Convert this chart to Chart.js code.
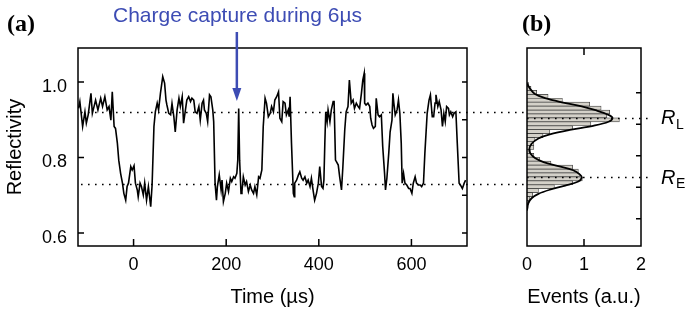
<!DOCTYPE html>
<html>
<head>
<meta charset="utf-8">
<title>Reflectivity trace and histogram</title>
<script src="https://cdn.jsdelivr.net/npm/chart.js@4.4.1/dist/chart.umd.min.js"></script>
<style>
  html, body { margin: 0; padding: 0; background: #fff; }
  #wrap { position: relative; width: 686px; height: 313px; overflow: hidden; }
  #wrap canvas { position: absolute; left: 0; top: 0; }
</style>
</head>
<body>
<div id="wrap">
  <canvas id="traceChart" width="686" height="313"></canvas>
  <canvas id="histChart" width="686" height="313"></canvas>
</div>
<script>
// values
const timeUs = [
  -119, -116, -110, -105, -102, -98, -92, -89, -82, -77, -71, -67, -62, -57, -53, -49, -46, -42, -39, -35,
  -32, -28, -24, -21, -17, -14, -11, -6, -3, 1, 4, 8, 10, 14, 17, 21, 24, 28, 32, 37,
  40, 44, 47, 51, 54, 58, 63, 67, 70, 72, 76, 80, 83, 87, 90, 94, 98, 101, 105, 108,
  112, 115, 119, 123, 126, 130, 133, 137, 141, 144, 148, 151, 153, 157, 160, 164, 167, 171, 173, 176,
  179, 181, 185, 189, 191, 194, 198, 201, 205, 209, 212, 216, 219, 223, 225, 227, 229, 232, 234, 237,
  241, 244, 248, 252, 255, 259, 262, 266, 270, 273, 277, 280, 284, 287, 291, 295, 298, 302, 305, 309,
  313, 316, 320, 323, 327, 330, 334, 336, 338, 341, 345, 347, 348, 352, 356, 359, 363, 366, 370, 374,
  377, 381, 384, 388, 391, 395, 399, 402, 406, 409, 411, 413, 415, 418, 420, 424, 427, 431, 433, 436,
  438, 442, 445, 449, 452, 456, 459, 463, 466, 470, 474, 477, 481, 485, 488, 492, 495, 498, 499, 502,
  506, 510, 512, 515, 518, 522, 524, 528, 531, 535, 538, 542, 544, 547, 551, 554, 558, 560, 562, 565,
  569, 572, 575, 578, 580, 583, 586, 590, 594, 597, 601, 604, 608, 611, 615, 619, 622, 626, 629, 634,
  638, 641, 645, 648, 651, 653, 657, 660, 664, 667, 670, 673, 676, 680, 682, 685, 689, 692, 696, 699,
  703, 706, 710, 714, 717
];
const reflectivity = [
  0.930, 0.948, 0.882, 0.921, 0.891, 0.913, 0.970, 0.917, 0.952, 0.926, 0.957, 0.935, 0.961, 0.926, 0.935, 0.899, 0.974, 0.882, 0.877, 0.838,
  0.793, 0.758, 0.732, 0.705, 0.687, 0.723, 0.732, 0.776, 0.767, 0.778, 0.732, 0.714, 0.696, 0.732, 0.723, 0.701, 0.732, 0.687, 0.723, 0.670,
  0.727, 0.882, 0.921, 0.944, 0.926, 0.970, 1.014, 0.997, 0.952, 0.939, 0.917, 0.913, 0.943, 0.908, 0.868, 0.926, 0.957, 0.935, 0.961, 0.891,
  0.926, 0.952, 0.961, 0.948, 0.957, 0.952, 0.921, 0.917, 0.935, 0.899, 0.944, 0.952, 0.926, 0.917, 0.895, 0.966, 0.961, 0.926, 0.895, 0.732,
  0.687, 0.723, 0.754, 0.714, 0.740, 0.683, 0.705, 0.732, 0.710, 0.745, 0.736, 0.749, 0.745, 0.758, 0.793, 0.930, 0.793, 0.705, 0.710, 0.749,
  0.727, 0.736, 0.710, 0.727, 0.714, 0.705, 0.723, 0.701, 0.749, 0.745, 0.767, 0.882, 0.957, 0.944, 0.908, 0.917, 0.935, 0.921, 0.952, 0.961,
  0.974, 0.904, 0.895, 0.948, 0.944, 0.913, 0.926, 0.908, 0.961, 0.838, 0.705, 0.696, 0.732, 0.740, 0.754, 0.762, 0.745, 0.740, 0.749, 0.732,
  0.740, 0.723, 0.745, 0.710, 0.687, 0.705, 0.732, 0.776, 0.723, 0.718, 0.740, 0.838, 0.921, 0.895, 0.926, 0.895, 0.926, 0.948, 0.948, 0.793,
  0.789, 0.780, 0.749, 0.714, 0.776, 0.873, 0.921, 0.935, 1.005, 0.944, 0.952, 0.930, 0.944, 0.935, 0.930, 0.970, 1.005, 1.023, 0.944, 0.939,
  0.944, 0.935, 0.904, 0.886, 0.877, 0.882, 0.957, 0.913, 0.908, 0.913, 0.829, 0.758, 0.714, 0.745, 0.811, 0.868, 0.899, 0.970, 0.944, 0.913,
  0.926, 0.952, 0.917, 0.838, 0.732, 0.758, 0.732, 0.727, 0.718, 0.718, 0.705, 0.732, 0.749, 0.732, 0.727, 0.727, 0.723, 0.732, 0.811, 0.917,
  0.952, 0.966, 0.908, 0.908, 0.944, 0.966, 0.935, 0.948, 0.926, 0.882, 0.917, 0.895, 0.935, 0.930, 0.913, 0.921, 0.908, 0.917, 0.921, 0.838,
  0.732, 0.727, 0.718, 0.732, 0.740
];

// histogram of reflectivity (bin centres and heights, a.u.)
const binCenters = [
  1.0265, 1.014, 1.0015, 0.989, 0.9765, 0.964, 0.9515, 0.939, 0.9265, 0.914, 0.9015, 0.889, 0.8765, 0.864, 0.8515, 0.839,
  0.8265, 0.814, 0.8015, 0.789, 0.7765, 0.764, 0.7515, 0.739, 0.7265, 0.714, 0.7015, 0.689, 0.6765, 0.664, 0.6515, 0.639
];
const binEvents = [
  0.03, 0.07, 0.17, 0.37, 0.62, 1.10, 1.30, 1.45, 1.40, 1.62, 1.12, 0.80, 0.40, 0.28, 0.14, 0.12,
  0.12, 0.06, 0.12, 0.22, 0.42, 0.80, 0.90, 0.92, 0.97, 0.80, 0.48, 0.20, 0.10, 0.05, 0.03, 0.02
];

// fitted double gaussian
const fitR = [
  1.030, 1.014, 0.996, 0.983, 0.970, 0.957, 0.944, 0.930, 0.920, 0.908, 0.895, 0.882, 0.868, 0.855, 0.838,
  0.820, 0.807, 0.793, 0.780, 0.767, 0.754, 0.740, 0.730, 0.718, 0.705, 0.692, 0.679, 0.665, 0.648, 0.626
];
const fitEvents = [
  0.00, 0.05, 0.14, 0.32, 0.61, 0.96, 1.22, 1.43, 1.50, 1.43, 1.16, 0.75, 0.40, 0.20, 0.08,
  0.04, 0.06, 0.14, 0.29, 0.55, 0.81, 0.93, 0.96, 0.90, 0.67, 0.40, 0.20, 0.08, 0.02, 0.00
];

const levelRL = 0.92;
const levelRE = 0.731;
const captureTime = 223;

const timeTicks = [0, 200, 400, 600];
const reflTicks = [0.6, 0.8, 1.0];
const reflMinorTicks = [0.6, 0.7, 0.8, 0.9, 1.0];
const eventTicks = [0, 1, 2];

const sans = "'Liberation Sans', Arial, Helvetica, sans-serif";
const serif = "'Liberation Serif', 'Times New Roman', serif";
const blue = '#3d4cb4';

Chart.defaults.font.family = sans;
Chart.defaults.color = '#000';

// box and inward tick marks
function drawFrame(chart, o) {
  const { ctx, chartArea: a, scales } = chart;
  ctx.save();
  ctx.strokeStyle = '#000';
  ctx.lineWidth = 1.5;
  ctx.strokeRect(a.left, a.top, a.right - a.left, a.bottom - a.top);
  ctx.beginPath();
  (o.left || []).forEach(v => {
    const py = scales.y.getPixelForValue(v);
    ctx.moveTo(a.left, py); ctx.lineTo(a.left + 6, py);
  });
  (o.right || []).forEach(v => {
    const py = scales.y.getPixelForValue(v);
    ctx.moveTo(a.right, py); ctx.lineTo(a.right - 5, py);
  });
  (o.bottom || []).forEach(v => {
    const px = scales.x.getPixelForValue(v);
    ctx.moveTo(px, a.bottom); ctx.lineTo(px, a.bottom - 7);
  });
  (o.top || []).forEach(v => {
    const px = scales.x.getPixelForValue(v);
    ctx.moveTo(px, a.top); ctx.lineTo(px, a.top + 7);
  });
  ctx.stroke();
  ctx.restore();
}

function drawLevels(chart, x1, x2) {
  const { ctx, scales } = chart;
  ctx.save();
  ctx.strokeStyle = '#000';
  ctx.lineWidth = 1.6;
  ctx.setLineDash([1.6, 5.4]);
  [levelRL, levelRE].forEach(v => {
    const py = Math.round(scales.y.getPixelForValue(v)) + 0.5;
    ctx.beginPath(); ctx.moveTo(x1, py); ctx.lineTo(x2, py); ctx.stroke();
  });
  ctx.restore();
}

const tracePlugin = {
  id: 'traceDecor',
  afterDatasetsDraw(chart) {
    const a = chart.chartArea;
    drawLevels(chart, a.left + 3, 527);
    drawFrame(chart, { left: reflTicks, right: reflMinorTicks, bottom: timeTicks });

    const ctx = chart.ctx;
    ctx.save();
    ctx.fillStyle = '#000';
    ctx.font = 'bold 24px ' + serif;
    ctx.textBaseline = 'alphabetic';
    ctx.fillText('(a)', 7, 31);

    ctx.fillStyle = blue;
    ctx.font = '21px ' + sans;
    ctx.fillText('Charge capture during 6µs', 113, 22);

    const ax = chart.scales.x.getPixelForValue(captureTime);
    ctx.strokeStyle = blue;
    ctx.lineWidth = 2.5;
    ctx.beginPath(); ctx.moveTo(ax, 32); ctx.lineTo(ax, 90); ctx.stroke();
    ctx.beginPath();
    ctx.moveTo(ax - 4.5, 88); ctx.lineTo(ax + 4.5, 88); ctx.lineTo(ax, 101);
    ctx.closePath(); ctx.fill();
    ctx.restore();
  }
};

const histPlugin = {
  id: 'histDecor',
  afterDatasetsDraw(chart) {
    const a = chart.chartArea;
    drawLevels(chart, a.left, 652);
    drawFrame(chart, { right: reflMinorTicks, bottom: [1], top: [1] });

    const ctx = chart.ctx;
    ctx.save();
    ctx.fillStyle = '#000';
    ctx.font = 'bold 24px ' + serif;
    ctx.fillText('(b)', 522, 30.5);

    [[levelRL, 'L'], [levelRE, 'E']].forEach(([v, sub]) => {
      const py = chart.scales.y.getPixelForValue(v);
      ctx.font = 'italic 20px ' + sans;
      ctx.fillText('R', 661, py + 6.5);
      ctx.font = '14px ' + sans;
      ctx.fillText(sub, 676, py + 11);
    });
    ctx.restore();
  }
};

// (a) reflectivity versus time
new Chart(document.getElementById('traceChart'), {
  type: 'line',
  data: {
    datasets: [{
      data: timeUs.map((t, i) => ({ x: t, y: reflectivity[i] })),
      borderColor: '#000',
      borderWidth: 1.6,
      pointRadius: 0,
      tension: 0,
      fill: false
    }]
  },
  options: {
    responsive: false,
    animation: false,
    events: [],
    layout: { padding: { left: 0, top: 48, right: 219, bottom: 0 } },
    plugins: { legend: { display: false }, tooltip: { enabled: false } },
    scales: {
      x: {
        type: 'linear',
        min: -120,
        max: 720,
        afterBuildTicks: s => { s.ticks = timeTicks.map(v => ({ value: v })); },
        afterFit: s => { s.height = 67; },
        grid: { display: false, drawTicks: false },
        border: { display: false },
        ticks: { font: { size: 18 }, padding: 8, maxRotation: 0, autoSkip: false },
        title: { display: true, text: 'Time (µs)', font: { size: 20 }, padding: { top: 4, bottom: 4 } }
      },
      y: {
        type: 'linear',
        min: 0.5656,
        max: 1.09,
        afterBuildTicks: s => { s.ticks = reflTicks.map(v => ({ value: v })); },
        afterFit: s => { s.width = 78; },
        grid: { display: false, drawTicks: false },
        border: { display: false },
        ticks: { font: { size: 18 }, padding: 11, labelOffset: 5, callback: v => v.toFixed(1) },
        title: { display: true, text: 'Reflectivity', font: { size: 20 }, padding: { top: 3, bottom: 3 } }
      }
    }
  },
  plugins: [tracePlugin]
});

// (b) histogram of reflectivity
new Chart(document.getElementById('histChart'), {
  type: 'bar',
  data: {
    datasets: [
      {
        type: 'line',
        data: fitEvents.map((e, i) => ({ x: e, y: fitR[i] })),
        borderColor: '#000',
        borderWidth: 1.8,
        pointRadius: 0,
        tension: 0.35,
        fill: false,
        order: 0
      },
      {
        type: 'bar',
        data: binEvents.map((e, i) => ({ x: e, y: binCenters[i] })),
        backgroundColor: '#d4d1c9',
        borderColor: '#333',
        borderWidth: 0.7,
        barPercentage: 1,
        categoryPercentage: 1,
        order: 1
      }
    ]
  },
  options: {
    indexAxis: 'y',
    responsive: false,
    animation: false,
    events: [],
    layout: { padding: { left: 527, top: 48, right: 45, bottom: 0 } },
    plugins: { legend: { display: false }, tooltip: { enabled: false } },
    scales: {
      x: {
        type: 'linear',
        min: 0,
        max: 2,
        afterBuildTicks: s => { s.ticks = eventTicks.map(v => ({ value: v })); },
        afterFit: s => { s.height = 67; },
        grid: { display: false, drawTicks: false },
        border: { display: false },
        ticks: { font: { size: 18 }, padding: 8, maxRotation: 0, autoSkip: false },
        title: { display: true, text: 'Events (a.u.)', font: { size: 20 }, padding: { top: 4, bottom: 4 } }
      },
      y: {
        type: 'linear',
        min: 0.5656,
        max: 1.09,
        display: false
      }
    }
  },
  plugins: [histPlugin]
});
</script>
</body>
</html>
